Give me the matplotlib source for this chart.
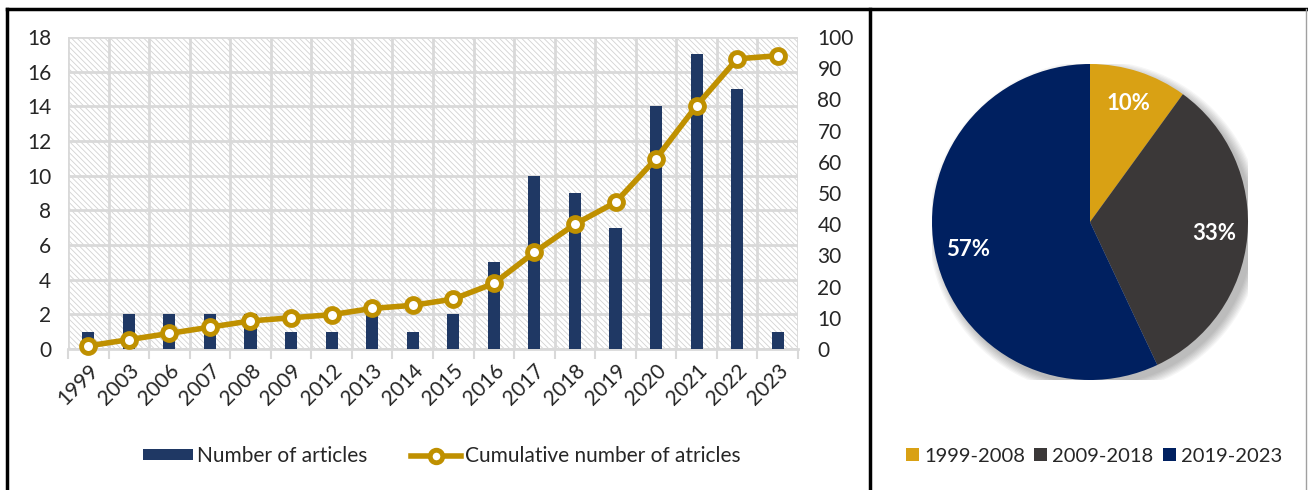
import numpy as np
import matplotlib
matplotlib.use("Agg")
import matplotlib.pyplot as plt
from matplotlib.patches import Circle, Patch
from matplotlib.lines import Line2D

# data
years = ["1999", "2003", "2006", "2007", "2008", "2009", "2012", "2013", "2014",
         "2015", "2016", "2017", "2018", "2019", "2020", "2021", "2022", "2023"]
articles = [1, 2, 2, 2, 2, 1, 1, 2, 1, 2, 5, 10, 9, 7, 14, 17, 15, 1]
cumulative = [1, 3, 5, 7, 9, 10, 11, 13, 14, 16, 21, 31, 40, 47, 61, 78, 93, 94]
periods = ["1999-2008", "2009-2018", "2019-2023"]
shares = [10, 33, 57]

BAR_C = "#1F3864"
LINE_C = "#BF9000"
PIE_C = ["#D9A114", "#3B3838", "#002060"]
TXT = "#262626"
GRID = "#d9d9d9"

plt.rcParams["font.family"] = ["Lato", "DejaVu Sans"]
plt.rcParams["hatch.linewidth"] = 0.6

W, H = 1308, 490
fig = plt.figure(figsize=(W / 100, H / 100), dpi=100)

# ---- left panel: bars + cumulative line
ax = fig.add_axes([68 / W, 1 - 349 / H, (798 - 68) / W, (349 - 37) / H])
ax.patch.set_facecolor("white")
ax.patch.set_hatch("\\\\\\\\\\\\")
ax.patch.set_edgecolor("#d2d2d2")
ax.patch.set_linewidth(0)

x = np.arange(len(years))
ax.bar(x, articles, width=0.3, color=BAR_C, zorder=3)
ax.set_xlim(-0.5, len(years) - 0.5)
ax.set_ylim(0, 18)
ax.set_yticks(range(0, 19, 2))
ax.set_xticks(x)
ax.set_xticklabels(years, rotation=45, ha="right", rotation_mode="anchor")
ax.set_xticks(np.arange(-0.5, len(years), 1), minor=True)
ax.tick_params(axis="x", which="major", length=0, pad=8, labelsize=15, labelcolor=TXT)
ax.tick_params(axis="x", which="minor", length=7, width=1.5, color=GRID)
ax.tick_params(axis="y", length=0, pad=12, labelsize=15, labelcolor=TXT)
ax.grid(axis="y", color=GRID, linewidth=2, zorder=1)
ax.grid(axis="x", which="minor", color=GRID, linewidth=2, zorder=1)
ax.set_axisbelow(True)
for s in ["top", "right", "left"]:
    ax.spines[s].set_visible(False)
ax.spines["bottom"].set_color(GRID)
ax.spines["bottom"].set_linewidth(2)

ax2 = ax.twinx()
ax2.plot(x, cumulative, color=LINE_C, linewidth=4, marker="o", markersize=10,
         markerfacecolor="white", markeredgecolor=LINE_C, markeredgewidth=3.5,
         zorder=4, clip_on=False)
ax2.set_ylim(0, 100)
ax2.set_yticks(range(0, 101, 10))
ax2.tick_params(axis="y", length=0, pad=14, labelsize=15, labelcolor=TXT)
for s in ax2.spines.values():
    s.set_visible(False)

handles = [Patch(facecolor=BAR_C, edgecolor="none"),
           Line2D([], [], color=LINE_C, linewidth=4, marker="o", markersize=9,
                  markerfacecolor="white", markeredgewidth=3.5)]
fig.legend(handles, ["Number of articles", "Cumulative number of atricles"],
           loc="center", bbox_to_anchor=(442 / W, 1 - 456 / H), ncol=2,
           frameon=False, fontsize=15, handlelength=2.4, handleheight=0.4,
           handletextpad=0.2, columnspacing=2.1, labelcolor=TXT)

# ---- right panel: pie
R = 158
pax = fig.add_axes([(1090 - R) / W, 1 - (222 + R) / H, 2 * R / W, 2 * R / H])
for k in range(8):
    pax.add_patch(Circle((0.035, -0.035), 1.0 + 0.008 * k, color="black",
                         alpha=0.035, linewidth=0, zorder=0))
wedges, texts, autotexts = pax.pie(
    shares, colors=PIE_C, startangle=90, counterclock=False,
    autopct=lambda p: f"{p:.0f}%", pctdistance=0.79,
    wedgeprops=dict(linewidth=0), textprops=dict(color="white", fontsize=16,
                                                 fontweight="bold"))
for w in wedges:
    w.set_zorder(2)
for t in autotexts:
    t.set_zorder(3)
pax.set_xlim(-1, 1)
pax.set_ylim(-1, 1)
pax.set_aspect("equal")
pax.axis("off")

ph = [Patch(facecolor=c, edgecolor="none") for c in PIE_C]
fig.legend(ph, periods, loc="center", bbox_to_anchor=(1094 / W, 1 - 456 / H),
           ncol=3, frameon=False, fontsize=14.5, handlelength=0.65,
           handleheight=0.65, handletextpad=0.25, columnspacing=0.45,
           labelcolor=TXT)

# ---- panel borders
def fline(xs, ys, color="black", lw=2.5):
    fig.add_artist(Line2D([v / W for v in xs], [1 - v / H for v in ys],
                          color=color, linewidth=lw, transform=fig.transFigure))

fline([7, 1306], [9, 9])
fline([7, 7], [9, 492])
fline([870, 870], [9, 492])
fline([1306, 1306], [9, 492], color="#a0a0a0", lw=1)

fig.savefig("out.png", dpi=100)
